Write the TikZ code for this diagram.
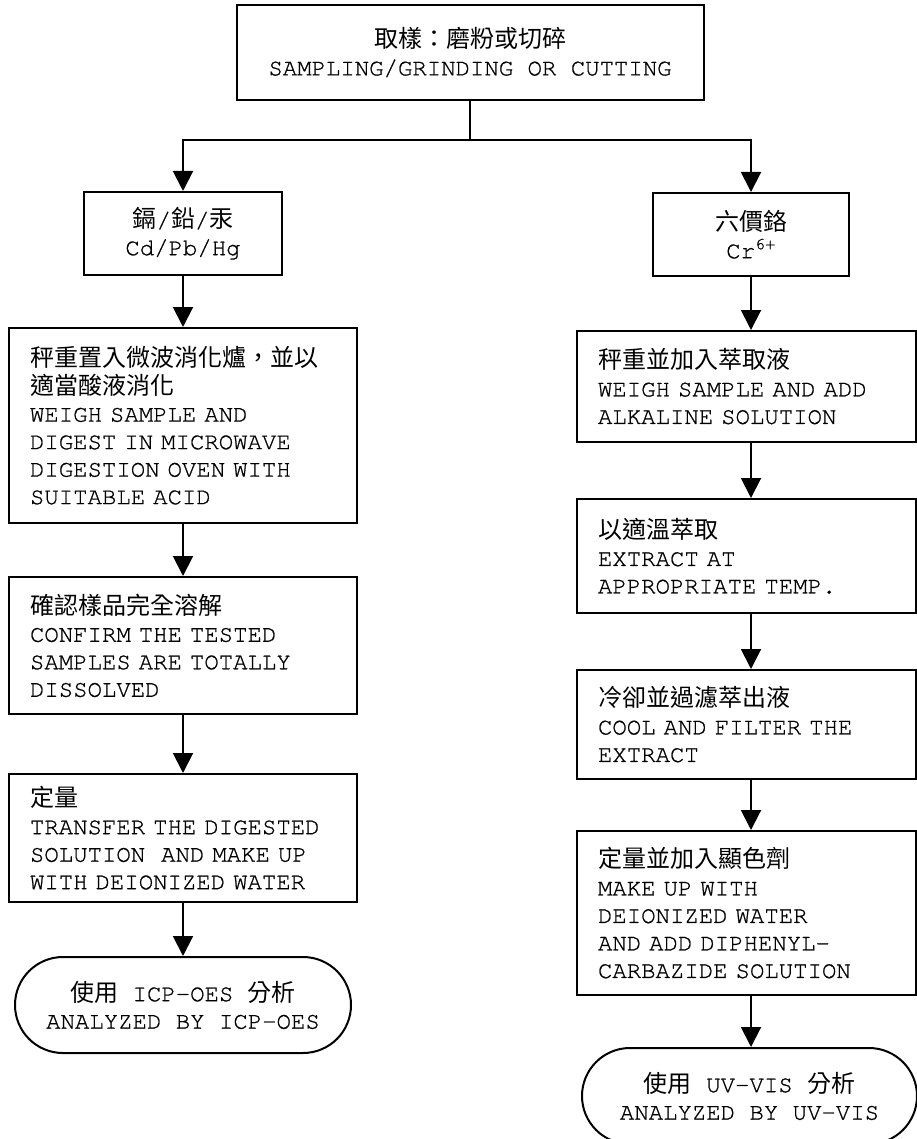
\documentclass[tikz,border=0pt]{standalone}
\usepackage{fontspec}
\setmonofont{texgyrecursor-regular.otf}[RawFeature={embolden=0.8}]
\newfontfamily\zhfont{Noto Sans CJK TC}
\newcommand{\zh}[1]{{\zhfont #1}}
\usetikzlibrary{arrows.meta,shapes.misc}

\tikzset{
  box/.style={draw, line width=2pt, align=center, inner sep=0pt},
  stepbox/.style={draw, line width=2pt, align=left, inner xsep=21pt, inner ysep=0pt, text width=#1},
  stepbox/.default=306pt,
  endbox/.style={draw, rounded rectangle, line width=2pt, align=center, inner sep=0pt,
    minimum width=336pt, minimum height=96pt},
  flow/.style={line width=2pt, -{Triangle[length=20pt,width=20pt]}}
}

\begin{document}
\begin{tikzpicture}[x=1pt, y=-1pt, font=\ttfamily\fontsize{24}{27.5}\selectfont]
  \useasboundingbox (0,0) rectangle (917,1139);

  \node[box, minimum width=467pt, minimum height=95pt] (sample) at (470,52.5)
    {\zh{取樣：磨粉或切碎}\\SAMPLING/GRINDING OR CUTTING};
  \node[box, minimum width=198pt, minimum height=83pt] (cdpb) at (183,233.5)
    {\zh{鎘}/\zh{鉛}/\zh{汞}\\Cd/Pb/Hg};
  \node[box, minimum width=196pt, minimum height=83pt] (crsix) at (751,234.5)
    {\zh{六價鉻}\\Cr\textsuperscript{6+}};

  % left column
  \node[stepbox, minimum height=195pt] (digest) at (183,425.5)
    {\zh{秤重置入微波消化爐，並以}\\\zh{適當酸液消化}\\WEIGH SAMPLE AND\\DIGEST IN MICROWAVE\\DIGESTION OVEN WITH\\SUITABLE ACID};
  \node[stepbox, minimum height=137pt] (confirm) at (183,645.5)
    {\zh{確認樣品完全溶解}\\CONFIRM THE TESTED\\SAMPLES ARE TOTALLY\\DISSOLVED};
  \node[stepbox, minimum height=128pt] (makeup) at (183,838)
    {\zh{定量}\\TRANSFER THE DIGESTED\\SOLUTION~ AND MAKE UP\\WITH DEIONIZED WATER};
  \node[endbox] (icp) at (183,1005)
    {\zh{使用} ICP-OES \zh{分析}\\ANALYZED BY ICP-OES};

  % right column
  \node[stepbox=297pt, minimum height=111pt] (weigh) at (746.5,386.5)
    {\zh{秤重並加入萃取液}\\WEIGH SAMPLE AND ADD\\ALKALINE SOLUTION};
  \node[stepbox=297pt, minimum height=114pt] (extract) at (746.5,556)
    {\zh{以適溫萃取}\\EXTRACT AT\\APPROPRIATE TEMP.};
  \node[stepbox=297pt, minimum height=109pt] (cool) at (746.5,724.5)
    {\zh{冷卻並過濾萃出液}\\COOL AND FILTER THE\\EXTRACT};
  \node[stepbox=297pt, minimum height=164pt] (colour) at (746.5,913)
    {\zh{定量並加入顯色劑}\\MAKE UP WITH\\DEIONIZED WATER\\AND ADD DIPHENYL-\\CARBAZIDE SOLUTION};
  \node[endbox, minimum width=335pt] (uvvis) at (749.5,1096)
    {\zh{使用} UV-VIS \zh{分析}\\ANALYZED BY UV-VIS};

  \coordinate (split) at (470,140);
  \draw[line width=2pt] (sample.south) -- (split);
  \draw[flow] (split) -| (cdpb.north);
  \draw[flow] (split) -| (crsix.north);

  \foreach \a/\b in {cdpb/digest, digest/confirm, confirm/makeup, makeup/icp}
    \draw[flow] (\a) -- (\b);
  \foreach \a/\b in {crsix/weigh, weigh/extract, extract/cool, cool/colour, colour/uvvis}
    \draw[flow] (\a.south -| crsix) -- (\b.north -| crsix);
\end{tikzpicture}
\end{document}
